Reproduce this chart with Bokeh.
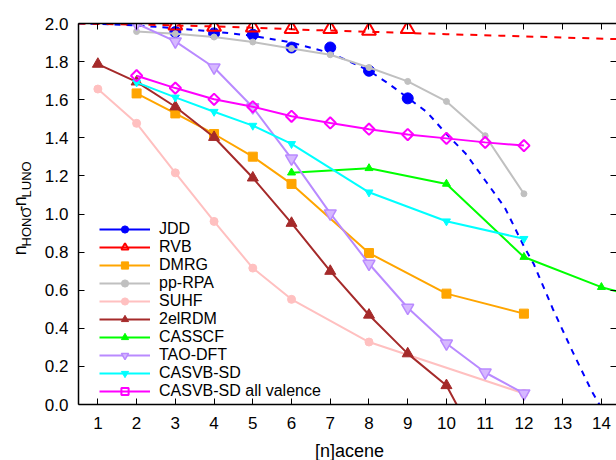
from math import pi, nan
from bokeh.plotting import figure
from bokeh.layouts import row, column
from bokeh.models import (Range1d, LinearAxis, FixedTicker, Legend, LegendItem,
                          Label, PrintfTickFormatter)
from bokeh.embed import file_html
from bokeh.resources import INLINE

FONT = "Liberation Sans"

# ---------------- data ----------------
x_ticks = [1, 2, 3, 4, 5, 6, 7, 8, 9, 10, 11, 12, 13, 14]
y_ticks = [0.0, 0.2, 0.4, 0.6, 0.8, 1.0, 1.2, 1.4, 1.6, 1.8, 2.0]

jdd_n = [3, 4, 5, 6, 7, 8, 9]
jdd_v = [1.955, 1.948, 1.941, 1.874, 1.874, 1.752, 1.607]
jdd_fit_n = [0.5, 1, 2, 3, 4, 5, 6, 7, 7.5, 8, 8.5, 9, 9.5, 10, 10.5, 11, 11.5,
             12, 12.25, 12.75, 13.25, 13.75, 13.95]
jdd_fit_v = [2.0, 1.998, 1.99, 1.975, 1.958, 1.935, 1.90, 1.845, 1.80, 1.752,
             1.685, 1.61, 1.534, 1.42, 1.316, 1.176, 1.036, 0.83, 0.739, 0.50,
             0.28, 0.07, 0.0]

rvb_n = [3, 4, 5, 6, 7, 8, 9]
rvb_v = [1.990, 1.983, 1.979, 1.971, 1.971, 1.962, 1.971]
rvb_fit_n = [0.5, 2.4, 4.3, 6.5, 10, 11.4, 14.4, 15]
rvb_fit_v = [2.0, 1.993, 1.983, 1.966, 1.944, 1.936, 1.918, 1.915]

dmrg_n = [2, 3, 4, 5, 6, 8, 10, 12]
dmrg_v = [1.633, 1.528, 1.420, 1.301, 1.158, 0.795, 0.582, 0.477]

pprpa_n = [2, 3, 4, 5, 6, 7, 8, 9, 10, 11, 12]
pprpa_v = [1.958, 1.946, 1.929, 1.903, 1.869, 1.836, 1.769, 1.696, 1.591, 1.411, 1.106]

suhf_n = [1, 2, 3, 4, 5, 6, 8, 12]
suhf_v = [1.656, 1.476, 1.216, 0.961, 0.716, 0.552, 0.328, 0.058]

rdm_n = [1, 2, 3, 4, 5, 6, 7, 8, 9, 10, 11]
rdm_v = [1.787, 1.694, 1.563, 1.403, 1.190, 0.952, 0.700, 0.470, 0.267, 0.100, -0.28]

casscf_n = [6, 8, 10, 12, 14, 16]
casscf_v = [1.217, 1.240, 1.158, 0.774, 0.616, 0.505]

tao_n = [2, 3, 4, 5, 6, 7, 8, 9, 10, 11, 12]
tao_v = [2.0, 1.906, 1.769, 1.560, 1.291, 1.003, 0.739, 0.508, 0.320, 0.168, 0.058]

casvb_n = [2, 3, 4, 5, 6, 8, 10, 12]
casvb_v = [1.691, 1.612, 1.537, 1.464, 1.368, 1.114, 0.962, 0.870]

casvbv_n = [2, 3, 4, 5, 6, 7, 8, 9, 10, 11, 12]
casvbv_v = [1.726, 1.661, 1.602, 1.563, 1.513, 1.478, 1.445, 1.417, 1.397, 1.376, 1.359]

x_title = "[n]acene"

# ---------------- layout sizes ----------------
W, H = 616, 460
LW_FIG = 40            # width of the strip holding the y-axis title
XT_H = 24              # height of the strip holding the x-axis title
MW, MH = W - LW_FIG, H - XT_H
BL, BR, BT, BB = 38, 0, 23, 32
X0, X1 = 0.5, 14.39
Y0, Y1 = 0.0, 2.0

p = figure(width=MW, height=MH, output_backend="svg", toolbar_location=None,
           x_range=Range1d(X0, X1), y_range=Range1d(Y0, Y1),
           min_border_left=BL, min_border_right=BR, min_border_top=BT,
           min_border_bottom=BB)
p.outline_line_color = None
p.grid.visible = False
p.background_fill_color = "white"
p.border_fill_color = "white"

p.xaxis.ticker = FixedTicker(ticks=x_ticks)
p.yaxis.ticker = FixedTicker(ticks=y_ticks)
p.yaxis.formatter = PrintfTickFormatter(format="%.1f")

for ax in (p.xaxis[0], p.yaxis[0]):
    ax.axis_line_color = "black"
    ax.axis_line_width = 1.5
    ax.major_tick_in = 6
    ax.major_tick_out = 0
    ax.major_tick_line_color = "black"
    ax.minor_tick_line_color = None
    ax.major_label_text_font = FONT
    ax.major_label_text_font_size = "17px"
    ax.major_label_text_color = "black"
p.yaxis.major_label_standoff = 10
p.xaxis.major_label_standoff = 12

# mirrored tick marks on top and right (minor ticks only -> no labels)
top = LinearAxis(ticker=FixedTicker(ticks=[], minor_ticks=x_ticks),
                 major_label_standoff=0, major_tick_in=0, major_tick_out=0,
                 minor_tick_in=6, minor_tick_out=0, minor_tick_line_color="black",
                 axis_line_color="black", axis_line_width=1.5)
p.add_layout(top, "above")
right = LinearAxis(ticker=FixedTicker(ticks=[], minor_ticks=y_ticks),
                   major_label_standoff=0, major_tick_in=0, major_tick_out=0,
                   minor_tick_in=6, minor_tick_out=0, minor_tick_line_color="black",
                   axis_line_color=None)
p.add_layout(right, "right")

LW = 2

# JDD
jdd_pts = p.scatter(jdd_n, jdd_v, marker="circle", size=11, color="#0000ff")
p.line(jdd_fit_n, jdd_fit_v, line_color="#0000ff", line_width=LW, line_dash="6 6")
jdd_leg = p.line([X0], [nan], line_color="#0000ff", line_width=LW)

# RVB
rvb_pts = p.scatter(rvb_n, rvb_v, marker="triangle", size=14, line_color="#ff0000",
                    fill_color=None, line_width=2)
p.line(rvb_fit_n, rvb_fit_v, line_color="#ff0000", line_width=LW, line_dash="7 7")
rvb_leg = p.line([X0], [nan], line_color="#ff0000", line_width=LW)


def series(xs, ys, color, marker, size, fill="same", lw=1, angle=0.0):
    ln = p.line(xs, ys, line_color=color, line_width=LW)
    sc = p.scatter(xs, ys, marker=marker, size=size, line_color=color,
                   fill_color=(color if fill == "same" else fill), line_width=lw,
                   angle=angle)
    return [ln, sc]


dmrg_r = series(dmrg_n, dmrg_v, "#ffa500", "square", 9)
pprpa_r = series(pprpa_n, pprpa_v, "#c0c0c0", "circle", 6)
suhf_r = series(suhf_n, suhf_v, "#ffc0c0", "circle", 8)
rdm_r = series(rdm_n, rdm_v, "#a52a2a", "triangle", 11)
casscf_r = series(casscf_n, casscf_v, "#00ff00", "triangle", 8)
tao_r = series(tao_n, tao_v, "#b98aff", "inverted_triangle", 12, fill="#d6b8ff", lw=1.5)
casvb_r = series(casvb_n, casvb_v, "#00ffff", "inverted_triangle", 8)
casvbv_r = series(casvbv_n, casvbv_v, "#ff00ff", "square", 8, fill=None, lw=2,
                  angle=pi / 4)

items = [
    LegendItem(label="JDD", renderers=[jdd_leg, jdd_pts]),
    LegendItem(label="RVB", renderers=[rvb_leg, rvb_pts]),
    LegendItem(label="DMRG", renderers=dmrg_r),
    LegendItem(label="pp-RPA", renderers=pprpa_r),
    LegendItem(label="SUHF", renderers=suhf_r),
    LegendItem(label="2elRDM", renderers=rdm_r),
    LegendItem(label="CASSCF", renderers=casscf_r),
    LegendItem(label="TAO-DFT", renderers=tao_r),
    LegendItem(label="CASVB-SD", renderers=casvb_r),
    LegendItem(label="CASVB-SD all valence", renderers=casvbv_r),
]
legend = Legend(items=items, location=(21, 4), label_text_font=FONT,
                label_text_font_size="16px", label_text_color="black",
                glyph_width=51, glyph_height=18, label_height=18, spacing=0,
                padding=0, margin=0, label_standoff=9, border_line_color=None,
                background_fill_alpha=0)
p.add_layout(legend)


def strip(w, h):
    f = figure(width=w, height=h, output_backend="svg", toolbar_location=None,
               x_range=Range1d(0, w), y_range=Range1d(0, h), min_border=0,
               x_axis_type=None, y_axis_type=None)
    f.outline_line_color = None
    f.grid.visible = False
    f.background_fill_color = "white"
    f.border_fill_color = "white"
    return f


# ---------------- y-axis title with subscripts ----------------
ylab = strip(LW_FIG, MH)
MAIN = 18
SUB = 13
w_n = 0.556 * MAIN
w_dash = 0.333 * MAIN
w_hono = (0.722 + 0.778 + 0.722 + 0.778) * SUB + 1.0
w_luno = (0.556 + 0.722 + 0.722 + 0.778) * SUB
total = 2 * w_n + w_dash + w_hono + w_luno
center_y = MH - 214.0           # pixels from the strip's bottom
base_main = 19.5
base_sub = 25.5
parts = [("n", MAIN, base_main, w_n), ("HONO", SUB, base_sub, w_hono),
         ("-", MAIN, base_main, w_dash), ("n", MAIN, base_main, w_n),
         ("LUNO", SUB, base_sub, w_luno)]
pos = center_y - total / 2
for txt, fs, bx, w in parts:
    ylab.add_layout(Label(x=bx, y=pos, text=txt, angle=pi / 2, text_font=FONT,
                          text_font_size=f"{fs}px", text_color="black",
                          text_align="left", text_baseline="alphabetic"))
    pos += w

# ---------------- x-axis title ----------------
xlab = strip(W, XT_H)
xlab.add_layout(Label(x=(LW_FIG + BL + W) / 2 + 2, y=H - 450.0, text=x_title,
                      text_font=FONT, text_font_size="18px", text_color="black",
                      text_align="center", text_baseline="middle"))

layout = column(row(ylab, p, spacing=0), xlab, spacing=0)

open("out.html", "w").write(file_html(layout, INLINE))
